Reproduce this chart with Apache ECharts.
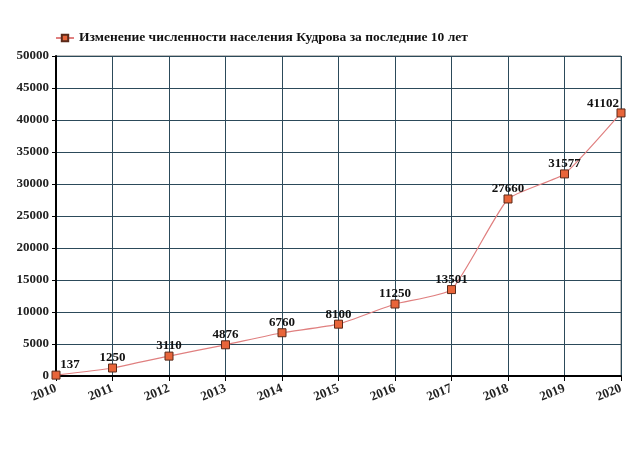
<!DOCTYPE html>
<html><head><meta charset="utf-8">
<script src="https://cdn.jsdelivr.net/npm/echarts@6/dist/echarts.min.js"></script>
<style>html,body{margin:0;padding:0;background:#fff}#c{width:640px;height:471px}</style>
</head><body><div id="c"></div>
<script>
const years = ['2010','2011','2012','2013','2014','2015','2016','2017','2018','2019','2020'];
const population = [137,1250,3110,4876,6760,8100,11250,13501,27660,31577,41102];
const seriesName = 'Изменение численности населения Кудрова за последние 10 лет';
const font = '"Liberation Serif", "DejaVu Serif", serif';
const chart = echarts.init(document.getElementById('c'));
const last = population.length - 1;
const seriesData = population.map((v, i) => {
  if (i === 0) return {value: v, label: {offset: [14, 0]}};
  if (i === last) return {value: v, label: {offset: [-18, 1]}};
  return v;
});
chart.setOption({
  animation: false,
  backgroundColor: '#fff',
  legend: {
    top: 26, left: 50,
    itemWidth: 18, itemHeight: 8, itemGap: 4,
    textStyle: {fontFamily: font, fontWeight: 'bold', fontSize: 13.5, color: '#111'},
    data: [seriesName]
  },
  grid: {left: 56, right: 19, top: 56, bottom: 95, show: true, borderColor: '#777', borderWidth: 1},
  xAxis: {
    type: 'category', data: years, boundaryGap: false,
    axisLine: {lineStyle: {color: '#000', width: 2}},
    axisTick: {show: true, length: 5, lineStyle: {color: '#000'}},
    axisLabel: {rotate: 22, fontFamily: font, fontWeight: 'bold', fontSize: 13, color: '#222', margin: 12},
    splitLine: {show: true, lineStyle: {color: '#2c4a5a', width: 1}}
  },
  yAxis: {
    type: 'value', min: 0, max: 50000, interval: 5000,
    axisLine: {show: true, lineStyle: {color: '#000', width: 2}},
    axisTick: {show: true, length: 4, lineStyle: {color: '#000'}},
    axisLabel: {formatter: v => String(v), fontFamily: font, fontWeight: 'bold', fontSize: 13, color: '#222', margin: 7},
    splitLine: {show: true, lineStyle: {color: '#2c4a5a', width: 1}}
  },
  series: [{
    name: seriesName, type: 'line', data: seriesData, smooth: 0.15,
    symbol: 'rect', symbolSize: 8,
    lineStyle: {color: '#e08080', width: 1.2},
    itemStyle: {color: '#e8653a', borderColor: '#5a2a1a', borderWidth: 1},
    label: {show: true, position: 'top', distance: -1, fontFamily: font, fontWeight: 'bold', fontSize: 13, color: '#111'}
  }]
});
</script></body></html>
